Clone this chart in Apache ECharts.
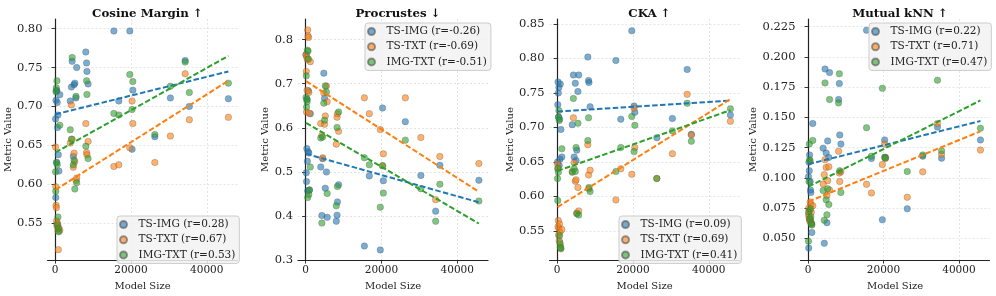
<!DOCTYPE html>
<html><head><meta charset="utf-8">
<script src="https://cdn.jsdelivr.net/npm/echarts@6/dist/echarts.min.js"></script>
<style>html,body{margin:0;padding:0;background:#fff}#c{width:996px;height:296px}</style>
</head><body><div id="c"></div>
<script>
// ---- data ----
const modelSizes = [120,180,250,330,400,480,560,650,750,850,1000,1250,
  4000,4300,4500,4800,5000,5200,5500,5700,
  8100,8300,8400,8700,
  15500,16800,19700,20300,20500,26300,30400,34300,35400,45700];
const xTicks = [0,20000,40000];
const seriesNames = ['TS-IMG','TS-TXT','IMG-TXT'];

// Cosine Margin
const cosTsImg = [0.684,0.583,0.708,0.721,0.628,0.720,0.705,0.673,0.689,0.638,0.617,0.715,
  0.707,0.725,0.758,0.636,0.728,0.730,0.711,0.750,
  0.770,0.756,0.745,0.729,
  0.797,0.707,0.797,0.645,0.721,0.661,0.711,0.759,0.700,0.710];
const cosTsTxt = [0.648,0.597,0.573,0.570,0.553,0.548,0.546,0.550,0.540,0.516,0.544,0.541,
  0.653,0.702,0.658,0.622,0.640,0.629,0.605,0.608,
  0.678,0.641,0.638,0.655,
  0.623,0.625,0.647,0.707,0.678,0.628,0.662,0.742,0.683,0.686];
const cosImgTxt = [0.616,0.591,0.719,0.724,0.628,0.733,0.625,0.548,0.558,0.543,0.539,0.676,
  0.670,0.658,0.763,0.625,0.631,0.594,0.713,0.602,
  0.649,0.733,0.7155,0.633,
  0.691,0.689,0.741,0.696,0.732,0.664,0.726,0.757,0.718,0.730];
const cosTrend = [[0.690,0.745],[0.593,0.733],[0.641,0.765]];
const cosR = ['0.28','0.67','0.53'];
const cosTicks = [0.55,0.60,0.65,0.70,0.75,0.80];

// Procrustes
const procTsImg = [0.766,0.498,0.478,0.553,0.665,0.524,0.457,0.546,0.684,0.543,0.459,0.632,
  0.511,0.401,0.530,0.724,0.667,0.463,0.500,0.397,
  0.388,0.402,0.432,0.471,
  0.332,0.491,0.323,0.645,0.480,0.614,0.492,0.411,0.515,0.481];
const procTsTxt = [0.766,0.728,0.636,0.760,0.685,0.755,0.822,0.808,0.805,0.680,0.633,0.750,
  0.610,0.583,0.532,0.679,0.608,0.627,0.695,0.659,
  0.563,0.624,0.632,0.592,
  0.668,0.632,0.596,0.514,0.541,0.668,0.578,0.437,0.535,0.519];
const procImgTxt = [0.669,0.718,0.647,0.664,0.659,0.776,0.442,0.774,0.756,0.449,0.459,0.511,
  0.577,0.384,0.579,0.656,0.617,0.695,0.681,0.451,
  0.423,0.601,0.467,0.636,
  0.532,0.516,0.420,0.514,0.452,0.572,0.462,0.388,0.472,0.434];
const procTrend = [[0.541,0.431],[0.706,0.455],[0.611,0.383]];
const procR = ['-0.26','-0.69','-0.51'];
const procTicks = [0.3,0.4,0.5,0.6,0.7,0.8];

// CKA
const ckaTsImg = [0.650,0.733,0.766,0.750,0.715,0.758,0.645,0.712,0.654,0.763,0.697,0.657,
  0.704,0.776,0.657,0.764,0.652,0.667,0.752,0.776,
  0.802,0.768,0.765,0.730,
  0.797,0.712,0.840,0.731,0.722,0.685,0.713,0.784,0.690,0.718];
const ckaTsTxt = [0.647,0.640,0.556,0.565,0.544,0.554,0.536,0.560,0.548,0.530,0.524,0.552,
  0.636,0.714,0.649,0.622,0.624,0.576,0.613,0.579,
  0.675,0.631,0.611,0.638,
  0.595,0.640,0.632,0.728,0.671,0.626,0.662,0.748,0.689,0.709];
const ckaImgTxt = [0.626,0.594,0.641,0.635,0.715,0.7245,0.710,0.543,0.533,0.526,0.525,0.669,
  0.635,0.742,0.640,0.636,0.671,0.575,0.706,0.573,
  0.681,0.714,0.613,0.607,
  0.636,0.671,0.716,0.665,0.703,0.626,0.695,0.735,0.680,0.727];
const ckaTrend = [[0.723,0.739],[0.5845,0.741],[0.637,0.725]];
const ckaR = ['0.09','0.69','0.41'];
const ckaTicks = [0.55,0.60,0.65,0.70,0.75,0.80,0.85];

// Mutual kNN
const knnTsImg = [0.101,0.042,0.113,0.106,0.119,0.066,0.097,0.090,0.088,0.062,0.055,0.145,
  0.1246,0.046,0.190,0.1205,0.063,0.1306,0.1169,0.187,
  0.1648,0.178,0.1355,0.128,
  0.222,0.116,0.0654,0.1314,0.117,0.0745,0.118,0.142,0.1163,0.1314];
const knnTsTxt = [0.070,0.075,0.068,0.066,0.073,0.064,0.080,0.065,0.078,0.0717,0.062,0.077,
  0.095,0.1027,0.115,0.1087,0.0854,0.0977,0.1092,0.090,
  0.122,0.104,0.097,0.105,
  0.0947,0.0876,0.111,0.128,0.116,0.084,0.105,0.145,0.1195,0.123];
const knnImgTxt = [0.0477,0.072,0.097,0.128,0.115,0.066,0.114,0.0745,0.068,0.0627,0.061,0.131,
  0.0896,0.065,0.1785,0.082,0.0695,0.091,0.078,0.1648,
  0.162,0.186,0.106,0.088,
  0.1415,0.118,0.174,0.117,0.1165,0.1054,0.119,0.1807,0.1225,0.141];
const knnTrend = [[0.1114,0.147],[0.0805,0.1385],[0.0928,0.164]];
const knnR = ['0.22','0.71','0.47'];
const knnTicks = [0.050,0.075,0.100,0.125,0.150,0.175,0.200,0.225];

// ---- layout / style ----
const FONT = 'DejaVu Serif';
const COLORS = ['#1f77b4','#ff7f0e','#2ca02c'];
const panels = [
  {title:'Cosine Margin ↑', left:47.5, width:190, ymin:0.5026, ymax:0.8124, ticks:cosTicks, dec:2,
   vals:[cosTsImg,cosTsTxt,cosImgTxt], trend:cosTrend, r:cosR, leg:{left:117, top:216}, nameGap:31},
  {title:'Procrustes ↓', left:298, width:190, ymin:0.300, ymax:0.8468, ticks:procTicks, dec:1,
   vals:[procTsImg,procTsTxt,procImgTxt], trend:procTrend, r:procR, leg:{left:365, top:23}, nameGap:25},
  {title:'CKA ↑', left:549.5, width:190, ymin:0.5077, ymax:0.8572, ticks:ckaTicks, dec:2,
   vals:[ckaTsImg,ckaTsTxt,ckaImgTxt], trend:ckaTrend, r:ckaR, leg:{left:619, top:216}, nameGap:33},
  {title:'Mutual kNN ↑', left:800.5, width:189, ymin:0.0321, ymax:0.2313, ticks:knnTicks, dec:3,
   vals:[knnTsImg,knnTsTxt,knnImgTxt], trend:knnTrend, r:knnR, leg:{left:869, top:23}, nameGap:39.5}
];
const xMin = Math.min(...modelSizes), xMax = Math.max(...modelSizes);
const axisLineStyle = {color:'#222', width:1.2};
const splitStyle = {color:'#dedede', width:0.8, type:[2,2]};

const option = {animation:false, backgroundColor:'#fff',
  title:[], grid:[], xAxis:[], yAxis:[], legend:[], series:[]};

panels.forEach((p,i)=>{
  option.title.push({text:p.title, left:p.left+p.width/2, textAlign:'center', top:3,
    textStyle:{fontFamily:FONT, fontWeight:'bold', fontSize:11.8, color:'#111'}});
  option.grid.push({left:p.left, width:p.width, top:19, height:242});
  option.xAxis.push({gridIndex:i, type:'value', min:-2000, max:48100,
    axisLine:{show:true, lineStyle:axisLineStyle},
    axisTick:{show:true, length:3.5, customValues:xTicks, lineStyle:{color:'#222', width:0.9}},
    axisLabel:{customValues:xTicks, fontFamily:FONT, fontSize:10.5, color:'#222', margin:5,
      formatter:v=>String(Math.round(v))},
    splitLine:{show:true, lineStyle:splitStyle},
    name:'Model Size', nameLocation:'middle', nameGap:18,
    nameTextStyle:{fontFamily:FONT, fontSize:10, color:'#222'}});
  option.yAxis.push({gridIndex:i, type:'value', min:p.ymin, max:p.ymax,
    axisLine:{show:true, lineStyle:axisLineStyle},
    axisTick:{show:true, length:3.5, customValues:p.ticks, lineStyle:{color:'#222', width:0.9}},
    axisLabel:{customValues:p.ticks, fontFamily:FONT, fontSize:11.5, color:'#222', margin:5,
      formatter:v=>Number(v).toFixed(p.dec)},
    splitLine:{show:true, lineStyle:splitStyle},
    name:'Metric Value', nameLocation:'middle', nameGap:p.nameGap, nameRotate:90,
    nameTextStyle:{fontFamily:FONT, fontSize:10, color:'#222'}});
  const names = seriesNames.map((n,k)=>`${n} (r=${p.r[k]})`);
  option.legend.push({data:names, orient:'vertical', left:p.leg.left, top:p.leg.top,
    icon:'circle', itemWidth:20, itemHeight:7, itemGap:4.2, padding:[3,4,3,2],
    backgroundColor:'rgba(242,242,242,0.85)', borderColor:'#cccccc', borderWidth:1, borderRadius:3,
    selectedMode:false,
    textStyle:{fontFamily:FONT, fontSize:10.5, color:'#222', lineHeight:10}});
  p.vals.forEach((arr,k)=>{
    option.series.push({type:'scatter', name:names[k], xAxisIndex:i, yAxisIndex:i,
      data:modelSizes.map((x,j)=>[x,arr[j]]), symbolSize:6.5, z:2,
      itemStyle:{color:COLORS[k], opacity:0.6, borderColor:'#555', borderWidth:0.5},
      emphasis:{disabled:true}});
  });
  p.trend.forEach((t,k)=>{
    option.series.push({type:'line', xAxisIndex:i, yAxisIndex:i, silent:true, z:3,
      data:[[xMin,t[0]],[xMax,t[1]]], symbol:'none',
      lineStyle:{color:COLORS[k], width:2, type:[5.5,2.4]}});
  });
});

const chart = echarts.init(document.getElementById('c'), null, {renderer:'canvas'});
chart.setOption(option);
</script></body></html>
